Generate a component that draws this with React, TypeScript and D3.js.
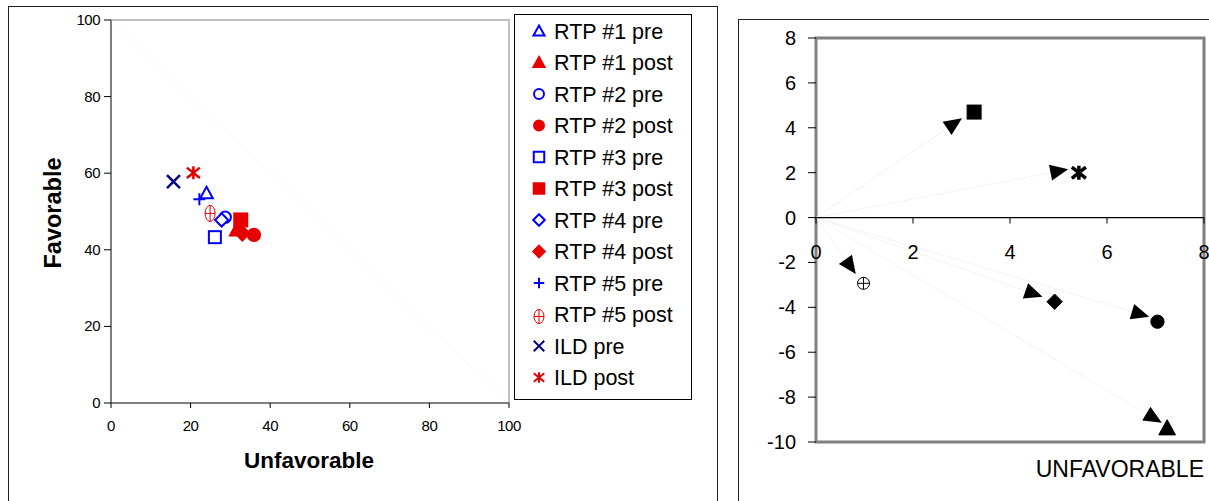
import React from "react";
import * as d3 from "d3";

const W = 1209;
const H = 501;

// groups in legend order (pre / post pairs)
const groups = ["RTP #1", "RTP #2", "RTP #3", "RTP #4", "RTP #5", "ILD"];
const preUnfav = [24.0, 28.7, 26.1, 27.8, 22.2, 15.7];
const preFav = [54.8, 48.5, 43.3, 47.8, 53.2, 57.8];
const postUnfav = [31.6, 35.9, 32.6, 33.0, 24.9, 20.7];
const postFav = [45.2, 43.9, 47.8, 44.3, 49.5, 60.1];

// change chart (right)
const changeUnfav = [7.24, 7.04, 3.26, 4.92, 0.98, 5.42];
const changeFav = [-9.38, -4.64, 4.7, -3.75, -2.93, 2.0];
const arrowUnfav = [7.13, 6.87, 3.01, 4.67, 0.82, 5.2];
const arrowFav = [-9.14, -4.42, 4.42, -3.53, -2.52, 2.15];

const leftTicks = [0, 20, 40, 60, 80, 100];
const rightXTicks = [0, 2, 4, 6, 8];
const rightYTicks = [8, 6, 4, 2, 0, -2, -4, -6, -8, -10];

const preShapes = ["triangle", "circle", "square", "diamond", "plus", "x"];
const postShapes = ["triangle", "circle", "square", "diamond", "crosscircle", "asterisk"];
const changeShapes = ["triangle", "circle", "square", "diamond", "crosscircle", "asterisk"];

const BLUE = "#0000ff";
const NAVY = "#000080";
const RED = "#e60000";
const FONT = "Liberation Sans, Arial, sans-serif";

type MProps = { shape: string; x: number; y: number; s: number; color: string; filled: boolean; sw?: number; oval?: number };

function Marker({ shape, x, y, s, color, filled, sw = 2, oval = 1 }: MProps) {
  const h = s / 2;
  const fill = filled ? color : "none";
  let el: React.ReactNode = null;
  if (shape === "triangle") {
    el = <path d={`M0,${-h * 1.05}L${h * 1.05},${h * 0.85}L${-h * 1.05},${h * 0.85}Z`} fill={filled ? color : "white"} stroke={color} strokeWidth={sw} strokeLinejoin="miter" />;
  } else if (shape === "circle") {
    el = <circle r={h * 0.95} fill={filled ? color : "white"} stroke={color} strokeWidth={sw} />;
  } else if (shape === "square") {
    el = <rect x={-h} y={-h} width={s} height={s} fill={filled ? color : "white"} stroke={color} strokeWidth={sw} />;
  } else if (shape === "diamond") {
    const d = h * 1.1;
    el = <path d={`M0,${-d}L${d},0L0,${d}L${-d},0Z`} fill={filled ? color : "white"} stroke={color} strokeWidth={sw} />;
  } else if (shape === "plus") {
    el = <path d={`M${-h},0H${h}M0,${-h}V${h}`} stroke={color} strokeWidth={sw} fill="none" />;
  } else if (shape === "x") {
    el = <path d={`M${-h},${-h}L${h},${h}M${h},${-h}L${-h},${h}`} stroke={color} strokeWidth={sw} fill="none" />;
  } else if (shape === "asterisk") {
    el = <path d={`M${-h},${-h * 0.8}L${h},${h * 0.8}M${h},${-h * 0.8}L${-h},${h * 0.8}M0,${-h}V${h}`} stroke={color} strokeWidth={sw} fill="none" />;
  } else if (shape === "crosscircle") {
    const rx = h / oval;
    const ry = h;
    el = (
      <g fill="none" stroke={color} strokeWidth={1}>
        <ellipse rx={rx} ry={ry} fill="white" />
        <path d={`M${-rx},0H${rx}M0,${-ry}V${ry}`} />
      </g>
    );
  }
  return <g transform={`translate(${x},${y})`} fill={fill}>{el}</g>;
}

function LeftChart() {
  const x = d3.scaleLinear().domain([0, 100]).range([111, 509]);
  const y = d3.scaleLinear().domain([0, 100]).range([403, 20]);
  const legendRowY = (i: number) => 31 + i * 31.5;
  const legendItems = groups.flatMap((g, i) => [
    { label: `${g} pre`, shape: preShapes[i], color: i === 5 ? NAVY : BLUE, filled: false },
    { label: `${g} post`, shape: postShapes[i], color: RED, filled: i < 4 },
  ]);
  return (
    <g>
      <rect x={8.5} y={6.5} width={709} height={520} fill="white" stroke="#222" strokeWidth={1} />
      {/* plot area border */}
      <path d={`M${x(0)},${y(100)}H${x(100)}V${y(0)}`} fill="none" stroke="#c0c0c0" strokeWidth={2} />
      <line x1={x(0)} y1={y(100)} x2={x(100)} y2={y(0)} stroke="#f6f6f6" strokeWidth={1} />
      {/* axes */}
      <line x1={x(0)} y1={y(0)} x2={x(0)} y2={y(100)} stroke="#000" strokeWidth={1} />
      <line x1={x(0)} y1={y(0)} x2={x(100)} y2={y(0)} stroke="#000" strokeWidth={1} />
      {leftTicks.map((t) => (
        <g key={"y" + t}>
          <line x1={x(0) - 7} x2={x(0)} y1={y(t)} y2={y(t)} stroke="#000" />
          <text x={100} y={y(t) + 5} textAnchor="end" fontFamily={FONT} fontSize={15} letterSpacing={-0.5}>{t}</text>
        </g>
      ))}
      {leftTicks.map((t) => (
        <g key={"x" + t}>
          <line x1={x(t)} x2={x(t)} y1={y(0)} y2={y(0) + 5} stroke="#000" />
          <text x={x(t)} y={431} textAnchor="middle" fontFamily={FONT} fontSize={15} letterSpacing={-0.5}>{t}</text>
        </g>
      ))}
      <text x={309} y={468} textAnchor="middle" fontFamily={FONT} fontSize={22.5} fontWeight="bold">Unfavorable</text>
      <text transform={`translate(61,213) rotate(-90)`} textAnchor="middle" fontFamily={FONT} fontSize={23.5} fontWeight="bold">Favorable</text>
      {/* points */}
      {groups.map((g, i) => (
        <Marker key={"pre" + g} shape={preShapes[i]} x={x(preUnfav[i])} y={y(preFav[i])} s={i === 5 ? 13 : 12} color={i === 5 ? NAVY : BLUE} filled={false} sw={i === 5 ? 2.5 : 2} />
      ))}
      {groups.map((g, i) => (
        <Marker key={"post" + g} shape={postShapes[i]} x={x(postUnfav[i])} y={y(postFav[i])} s={i === 5 ? 13 : i === 4 ? 16 : 13} color={RED} filled={i < 4} sw={i === 5 ? 2.5 : 2} oval={1.6} />
      ))}
      {/* legend */}
      <rect x={514.5} y={14.5} width={177} height={385} fill="white" stroke="#000" strokeWidth={1} />
      {legendItems.map((d, i) => (
        <g key={d.label}>
          <Marker shape={d.shape} x={539} y={legendRowY(i) + (d.shape === "crosscircle" ? 2 : 0)} s={d.shape === "crosscircle" ? 14 : 10.5} color={d.color} filled={d.filled} sw={2} oval={1.4} />
          <text x={554} y={legendRowY(i) + 7.5} fontFamily={FONT} fontSize={21.5}>{d.label}</text>
        </g>
      ))}
    </g>
  );
}

function RightChart() {
  const x = d3.scaleLinear().domain([0, 8]).range([816, 1204]);
  const y = d3.scaleLinear().domain([-10, 8]).range([442, 38]);
  const ox = x(0);
  const oy = y(0);
  return (
    <g>
      <rect x={738.5} y={19.5} width={500} height={520} fill="white" stroke="#222" strokeWidth={1} />
      <rect x={x(0)} y={y(8)} width={x(8) - x(0)} height={y(-10) - y(8)} fill="white" stroke="#808080" strokeWidth={3} />
      {/* arrow lines from origin */}
      {arrowUnfav.map((v, i) => (
        <line key={"l" + i} x1={ox} y1={oy} x2={x(v)} y2={y(arrowFav[i])} stroke="#f3f3f3" strokeWidth={1} />
      ))}
      <line x1={x(0)} x2={x(8)} y1={oy} y2={oy} stroke="#000" strokeWidth={1.2} />
      {rightYTicks.map((t) => (
        <g key={"y" + t}>
          <line x1={x(0) - 8} x2={x(0)} y1={y(t)} y2={y(t)} stroke="#000" />
          <text x={796} y={y(t) + 7} textAnchor="end" fontFamily={FONT} fontSize={20}>{t}</text>
        </g>
      ))}
      {rightXTicks.map((t) => (
        <g key={"x" + t}>
          <line x1={x(t)} x2={x(t)} y1={oy} y2={oy + 6} stroke="#000" />
          <text x={x(t)} y={259} textAnchor="middle" fontFamily={FONT} fontSize={20}>{t}</text>
        </g>
      ))}
      <text x={1204} y={477} textAnchor="end" fontFamily={FONT} fontSize={23}>UNFAVORABLE</text>
      {/* arrowheads */}
      {arrowUnfav.map((v, i) => {
        const tx = x(v);
        const ty = y(arrowFav[i]);
        const a = (Math.atan2(ty - oy, tx - ox) * 180) / Math.PI;
        return (
          <path key={"a" + i} transform={`translate(${tx},${ty}) rotate(${a})`} d="M0,0L-18,-8L-18,8Z" fill="#000" />
        );
      })}
      {changeUnfav.map((v, i) => (
        <Marker key={"c" + i} shape={changeShapes[i]} x={x(v)} y={y(changeFav[i])} s={changeShapes[i] === "triangle" ? 16 : changeShapes[i] === "crosscircle" ? 12 : 14} color="#000" filled={changeShapes[i] !== "crosscircle"} sw={changeShapes[i] === "asterisk" ? 3.5 : 1} />
      ))}
    </g>
  );
}

export default function App() {
  return (
    <svg width={W} height={H} style={{ position: "absolute", left: 0, top: 0, background: "white" }}>
      <rect width={W} height={H} fill="white" />
      <LeftChart />
      <RightChart />
    </svg>
  );
}
